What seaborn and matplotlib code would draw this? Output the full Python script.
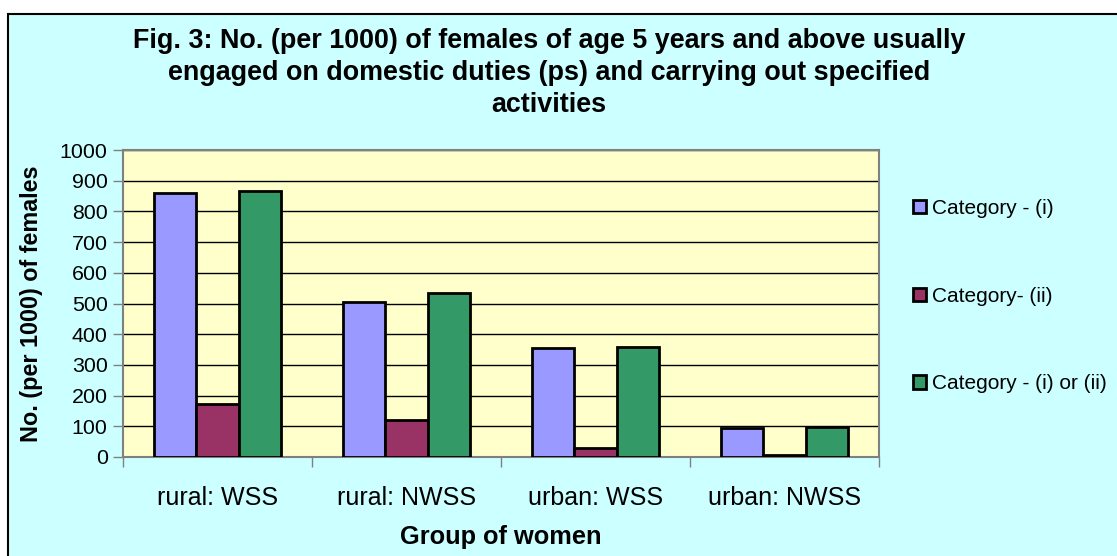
import pandas as pd
import matplotlib
matplotlib.use("Agg")
import matplotlib.pyplot as plt
import seaborn as sns
from matplotlib.patches import Rectangle
from matplotlib.ticker import MultipleLocator, FixedLocator

# Data
groups = ["rural: WSS", "rural: NWSS", "urban: WSS", "urban: NWSS"]
series = ["Category - (i)", "Category- (ii)", "Category - (i) or (ii)"]
cat_i = [861, 506, 356, 94]
cat_ii = [173, 120, 29, 7]
cat_i_or_ii = [867, 533, 359, 99]
colors = ["#9999FF", "#993366", "#339966"]

df = pd.DataFrame({
    "group": groups * 3,
    "series": [series[0]] * 4 + [series[1]] * 4 + [series[2]] * 4,
    "value": cat_i + cat_ii + cat_i_or_ii,
})

sns.set_style("white")
plt.rcParams["font.family"] = ["Liberation Sans", "DejaVu Sans"]
plt.rcParams["text.color"] = "black"
plt.rcParams["axes.labelcolor"] = "black"
plt.rcParams["xtick.color"] = "black"
plt.rcParams["ytick.color"] = "black"

fig = plt.figure(figsize=(11.17, 5.56), dpi=100)
fig.patch.set_facecolor("white")

# cyan chart area with border
bg = Rectangle((8 / 1117, -0.02), 1.1, (556 - 14) / 556 + 0.02,
               transform=fig.transFigure, facecolor="#CCFFFF",
               edgecolor="black", linewidth=1.5, zorder=-10)
fig.patches.append(bg)

ax = fig.add_axes([123 / 1117, 99 / 556, 756 / 1117, 307 / 556])
ax.set_facecolor("#FFFFCC")

sns.barplot(data=df, x="group", y="value", hue="series", order=groups,
            hue_order=series, palette=colors, width=0.667,
            edgecolor="black", linewidth=2, saturation=1, ax=ax, zorder=3)

ax.set_ylim(0, 1000)
ax.set_xlim(-0.5, 3.5)
ax.yaxis.set_major_locator(MultipleLocator(100))
ax.yaxis.grid(True, color="black", linewidth=1, zorder=0)
ax.set_axisbelow(True)

for s in ["top", "right", "left", "bottom"]:
    ax.spines[s].set_color("#808080")
    ax.spines[s].set_linewidth(1.5)

ax.tick_params(axis="y", which="major", left=True, length=7, width=1,
               color="#808080", labelcolor="black", labelsize=15.4, pad=4)
ax.xaxis.set_minor_locator(FixedLocator([-0.5, 0.5, 1.5, 2.5, 3.5]))
ax.tick_params(axis="x", which="minor", bottom=True, length=7, width=1,
               color="#808080", direction="out")
ax.tick_params(axis="x", which="major", length=0, labelcolor="black",
               labelsize=18, pad=21)

ax.set_xlabel("Group of women", fontsize=18.3, fontweight="bold", labelpad=11)
ax.set_ylabel("No. (per 1000) of females", fontsize=16.8, fontweight="bold",
              labelpad=12)

fig.text(549 / 1117, 1 - 28 / 556,
         "Fig. 3: No. (per 1000) of females of age 5 years and above usually\n"
         "engaged on domestic duties (ps) and carrying out specified\n"
         "activities",
         ha="center", va="top", fontsize=19.4, fontweight="bold", linespacing=1.3)

handles, labels = ax.get_legend_handles_labels()
ax.legend_.remove()
fig.legend(handles, labels, loc="center left",
           bbox_to_anchor=(905 / 1117, 1 - 296 / 556), frameon=False,
           fontsize=15, handlelength=0.6, handleheight=0.6,
           handletextpad=0.3, labelspacing=3.3, borderaxespad=0)

fig.savefig("out.png", dpi=100)
